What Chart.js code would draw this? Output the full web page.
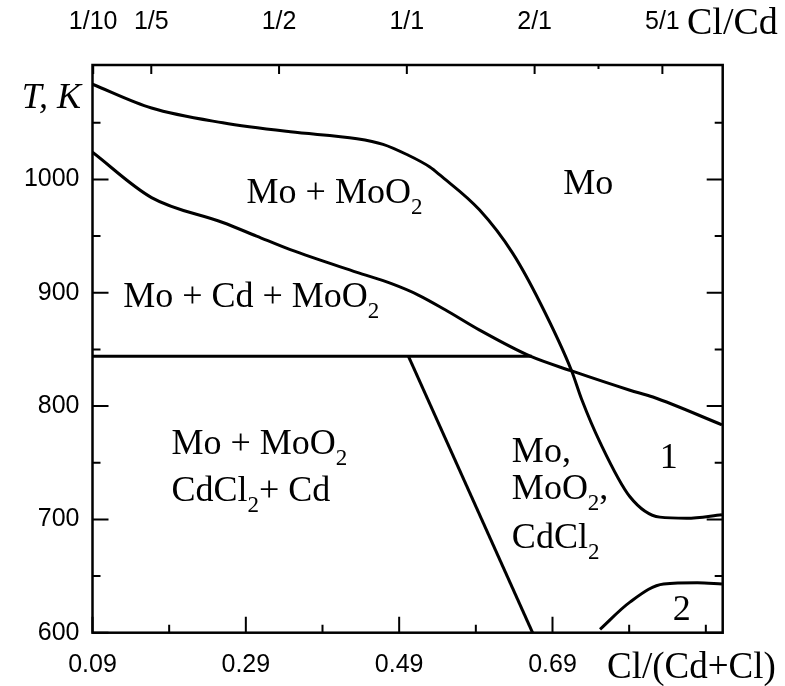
<!DOCTYPE html>
<html>
<head>
<meta charset="utf-8">
<title>Mo - Cd - Cl phase diagram</title>
<script src="https://cdn.jsdelivr.net/npm/chart.js@4.4.1/dist/chart.umd.min.js"></script>
<style>
  body { margin: 0; background: #fff; }
  #wrap { width: 785px; height: 686px; }
</style>
</head>
<body>
<div id="wrap"><canvas id="phaseChart" width="785" height="686"></canvas></div>
<script>
// boundary curves, [Cl/(Cd+Cl), T in K]
const curveUpper = [[0.09, 1084], [0.167, 1063], [0.26, 1050], [0.348, 1042], [0.435, 1036], [0.469, 1031], [0.50, 1022], [0.53, 1011], [0.543, 1004], [0.595, 973], [0.638, 935], [0.674, 891], [0.715, 831], [0.728, 806], [0.752, 768], [0.791, 720], [0.83, 702], [0.865, 701], [0.911, 704]];
const curveLower = [[0.09, 1024], [0.167, 984], [0.26, 962], [0.304, 950], [0.348, 938], [0.435, 918], [0.48, 908], [0.515, 898], [0.55, 885], [0.595, 867], [0.661, 844], [0.715, 831], [0.791, 814], [0.821, 808], [0.911, 783.5]];
const eutecticLine = [[0.09, 844], [0.663, 844]];
const cdcl2Line = [[0.502, 844], [0.664, 600]];
const curve2 = [[0.752, 603], [0.791, 627], [0.835, 643], [0.879, 644], [0.911, 643]];

// axes
const xMin = 0.09, xMax = 0.912;
const yMin = 600, yMax = 1101;
const xTickLabels = [0.09, 0.29, 0.49, 0.69];
const xMinorTicks = [0.19, 0.39, 0.59, 0.79, 0.89];
const yTickLabels = [600, 700, 800, 900, 1000];
const yMinorTicks = [650, 750, 850, 950, 1050];
const topLabels = ['1/10', '1/5', '1/2', '1/1', '2/1', '5/1'];
const topRatios = [0.1, 0.2, 0.5, 1, 2, 5];
const topMinorRatios = [3];

// region labels: [x, T, parts] where each part is [text, isSubscript]
const regionLabels = [
  [0.291, 979, [['Mo + MoO', false], ['2', true]]],
  [0.704, 987, [['Mo', false]]],
  [0.130, 887, [['Mo + Cd + MoO', false], ['2', true]]],
  [0.193, 758, [['Mo + MoO', false], ['2', true]]],
  [0.193, 716, [['CdCl', false], ['2', true], ['+ Cd', false]]],
  [0.637, 751, [['Mo,', false]]],
  [0.637, 718, [['MoO', false], ['2', true], [',', false]]],
  [0.637, 675, [['CdCl', false], ['2', true]]],
  [0.830, 745, [['1', false]]],
  [0.847, 611, [['2', false]]]
];

const SANS = '"Liberation Sans", Arial, sans-serif';
const SERIF = '"Liberation Serif", "Times New Roman", serif';

const toPts = arr => arr.map(p => ({ x: p[0], y: p[1] }));

function lineSet(arr, smooth) {
  return {
    data: toPts(arr),
    showLine: true,
    borderColor: '#000',
    borderWidth: 3,
    pointRadius: 0,
    fill: false,
    cubicInterpolationMode: smooth ? 'monotone' : 'default',
    tension: 0
  };
}

// frame, inward ticks, tick labels and text drawn from the chart's scales
const framePlugin = {
  id: 'frame',
  afterDatasetsDraw(chart) {
    const ctx = chart.ctx;
    const a = chart.chartArea;
    const xs = chart.scales.x, ys = chart.scales.y;
    ctx.save();
    ctx.strokeStyle = '#000';
    ctx.fillStyle = '#000';
    ctx.lineWidth = 2.5;
    ctx.strokeRect(a.left, a.top, a.right - a.left, a.bottom - a.top);

    ctx.lineWidth = 2;
    ctx.beginPath();
    // y ticks both sides
    yTickLabels.concat(yMinorTicks).forEach(v => {
      const len = yTickLabels.includes(v) ? 16 : 8;
      const py = ys.getPixelForValue(v);
      ctx.moveTo(a.left, py); ctx.lineTo(a.left + len, py);
      ctx.moveTo(a.right, py); ctx.lineTo(a.right - len, py);
    });
    // bottom ticks
    xTickLabels.concat(xMinorTicks).forEach(v => {
      const len = xTickLabels.includes(v) ? 16 : 8;
      const px = xs.getPixelForValue(v);
      ctx.moveTo(px, a.bottom); ctx.lineTo(px, a.bottom - len);
    });
    // top ticks at Cl/Cd ratios
    topRatios.forEach(r => {
      const px = xs.getPixelForValue(r / (1 + r));
      ctx.moveTo(px, a.top); ctx.lineTo(px, a.top + 9);
    });
    topMinorRatios.forEach(r => {
      const px = xs.getPixelForValue(r / (1 + r));
      ctx.moveTo(px, a.top); ctx.lineTo(px, a.top + 4);
    });
    ctx.stroke();

    // tick labels
    ctx.font = '25px ' + SANS;
    ctx.textBaseline = 'middle';
    ctx.textAlign = 'right';
    yTickLabels.forEach(v => ctx.fillText(String(v), a.left - 13, ys.getPixelForValue(v)));
    ctx.textAlign = 'center';
    xTickLabels.forEach(v => ctx.fillText(v.toFixed(2), xs.getPixelForValue(v), a.bottom + 32));
    topLabels.forEach((t, i) => {
      const r = topRatios[i];
      ctx.fillText(t, xs.getPixelForValue(r / (1 + r)), a.top - 43);
    });

    // axis titles
    ctx.textBaseline = 'alphabetic';
    ctx.textAlign = 'left';
    ctx.font = '38px ' + SERIF;
    ctx.fillText('Cl/Cd', 687, 34);
    ctx.font = '37px ' + SERIF;
    ctx.fillText('Cl/(Cd+Cl)', 607, 678);
    ctx.font = 'italic 36px ' + SERIF;
    ctx.textAlign = 'right';
    ctx.fillText('T, K', 81, 108);

    // region labels with subscripts
    ctx.textAlign = 'left';
    regionLabels.forEach(([x, t, parts]) => {
      let px = xs.getPixelForValue(x);
      const py = ys.getPixelForValue(t);
      parts.forEach(([txt, sub]) => {
        ctx.font = sub ? '23px ' + SERIF : '36px ' + SERIF;
        ctx.fillText(txt, px, sub ? py + 11 : py);
        px += ctx.measureText(txt).width;
      });
    });
    ctx.restore();
  }
};

const ctx = document.getElementById('phaseChart').getContext('2d');
new Chart(ctx, {
  type: 'scatter',
  data: {
    datasets: [
      lineSet(curveUpper, true),
      lineSet(curveLower, true),
      lineSet(eutecticLine, false),
      lineSet(cdcl2Line, false),
      lineSet(curve2, true)
    ]
  },
  options: {
    responsive: false,
    animation: false,
    layout: { padding: { left: 92.5, right: 62.3, top: 65, bottom: 53.3 } },
    plugins: { legend: { display: false }, tooltip: { enabled: false } },
    scales: {
      x: { type: 'linear', min: xMin, max: xMax, display: false },
      y: { type: 'linear', min: yMin, max: yMax, display: false }
    }
  },
  plugins: [framePlugin]
});
</script>
</body>
</html>
